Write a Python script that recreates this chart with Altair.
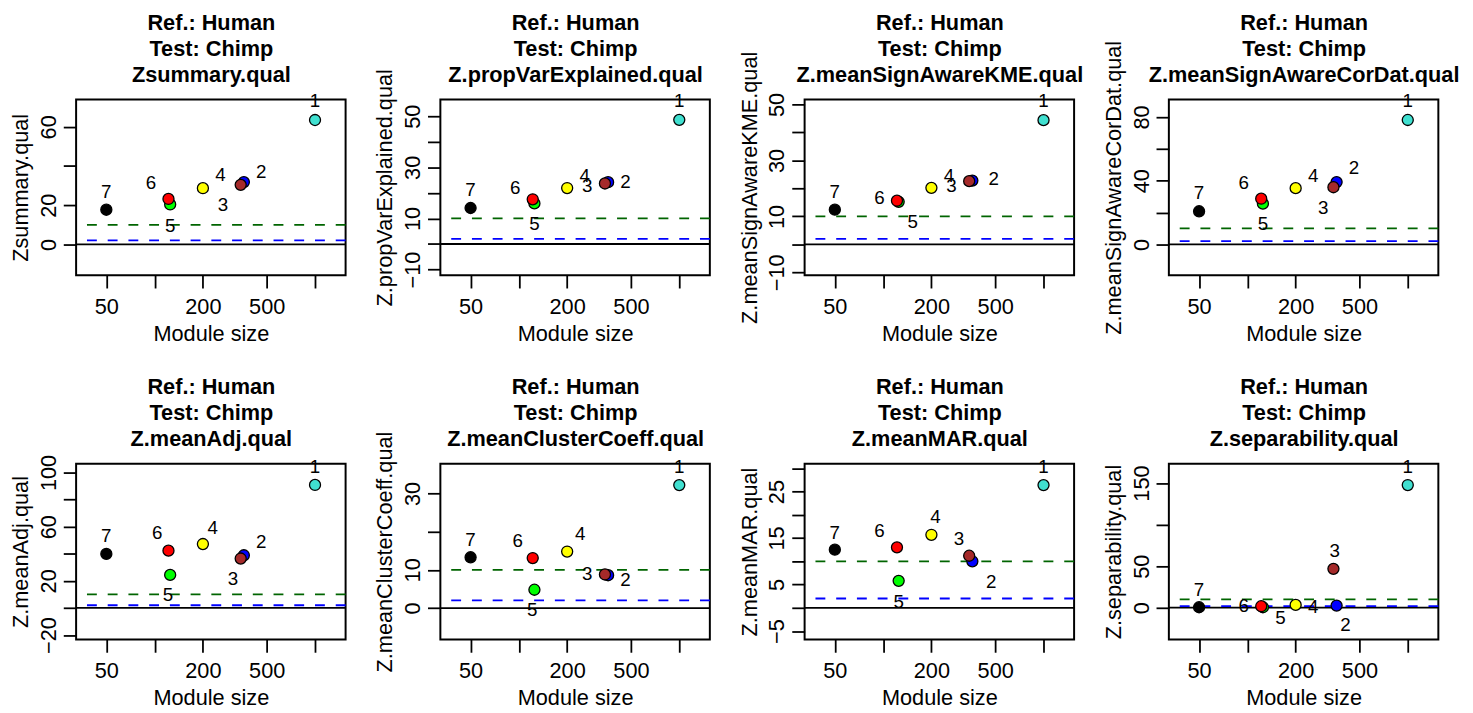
import altair as alt
import pandas as pd

FONT = "Liberation Sans"

# ---- data ----
modules = ["1", "2", "3", "4", "5", "6", "7"]
module_colors = ["#40E0D0", "#0000FF", "#A52A2A", "#FFFF00", "#00FF00", "#FF0000", "#000000"]
module_sizes = [1000, 360, 344, 200, 125, 122, 50]

stat_names = [
    "Zsummary.qual", "Z.propVarExplained.qual", "Z.meanSignAwareKME.qual",
    "Z.meanSignAwareCorDat.qual", "Z.meanAdj.qual", "Z.meanClusterCoeff.qual",
    "Z.meanMAR.qual", "Z.separability.qual",
]

zsummary = [63.5, 31.8, 30.4, 28.7, 20.4, 23.2, 17.7]
prop_var = [48.6, 24.2, 23.7, 21.9, 15.9, 17.5, 14.1]
sign_kme = [44.4, 22.8, 22.6, 20.2, 15.2, 15.6, 12.4]
sign_cor = [78.1, 39.1, 35.9, 35.3, 25.6, 28.7, 20.8]
mean_adj = [90.8, 38.9, 36.5, 47.2, 24.4, 42.3, 39.9]
clust_coef = [32.2, 8.6, 8.8, 14.8, 4.8, 13.1, 13.3]
mean_mar = [26.4, 10.0, 11.2, 15.7, 5.8, 13.0, 12.5]
separab = [147.6, 2.6, 46.8, 3.4, 0.6, 1.8, 0.6]
stat_values = [zsummary, prop_var, sign_kme, sign_cor, mean_adj, clust_coef, mean_mar, separab]

y_domains = [
    [-15.7, 74.0], [-12.2, 56.6], [-11.0, 51.8], [-19.3, 91.0],
    [-23.2, 106.5], [-8.2, 37.8], [-6.8, 31.0], [-38.1, 173.3],
]
y_ticks = [
    [0, 20, 40, 60], [-10, 0, 10, 20, 30, 40, 50], [-10, 0, 10, 20, 30, 40, 50],
    [0, 20, 40, 60, 80], [-20, 0, 20, 40, 60, 80, 100], [0, 10, 20, 30],
    [-5, 0, 5, 10, 15, 20, 25, 30], [0, 50, 100, 150],
]
y_labels = [
    [0, 20, 60], [-10, 10, 30, 50], [-10, 10, 30, 50], [0, 40, 80],
    [-20, 20, 60, 100], [0, 10, 30], [-5, 5, 15, 25], [0, 50, 150],
]
x_domain = [32.4, 1551]
x_ticks = [50, 100, 200, 500, 1000]
x_labels = [50, 200, 500]

thresholds = [0, 2, 10]
threshold_colors = ["black", "#0000FF", "#006400"]

# label placement offsets (pixels) for module numbers, per panel
label_dx = [
    [0, 17.7, -18, 17.7, 0, -17.7, 0],
    [0, 17.7, -18, 17.7, 0, -17.7, 0],
    [0, 21.7, -18, 17.7, 14.3, -17.7, 0],
    [0, 17.7, -10.3, 17.7, 0, -17.7, 0],
    [0, 17.7, -7.7, 10, -2.3, -11.3, 0],
    [0, 17.7, -18, 13.3, -2.3, -15.3, 0],
    [0, 19, -10.3, 4, 0, -17.7, 0],
    [0, 9, 1.3, 17.7, 17.7, -17.7, 0],
]
label_dy = [
    [-19, -10, 20.7, -13.3, 21.7, -16, -17.7],
    [-19, 0, 2.3, -12, 21, -11.7, -17.7],
    [-19, -1.3, 4.7, -12.3, 20.3, -3, -17.7],
    [-19, -14, 20.7, -12.7, 20.7, -15.7, -18.3],
    [-18.3, -13, 21, -16, 20.3, -17.7, -17.7],
    [-18.3, 5, -0.7, -17.7, 21, -16.7, -17.7],
    [-18.3, 21, -16.7, -18.3, 21.7, -16, -17.3],
    [-18.3, 20, -18.3, 2.3, 11, 0, -17.7],
]

PW, PH = 273, 178


def label_expr(vals):
    arr = ",".join(str(v) for v in vals)
    return f"indexof([{arr}], datum.value) >= 0 ? datum.label : ''"


def panel(i):
    df = pd.DataFrame({
        "module": modules,
        "color": module_colors,
        "size": module_sizes,
        "value": stat_values[i],
    })
    xscale = alt.Scale(type="log", domain=x_domain, nice=False, zero=False)
    yscale = alt.Scale(domain=y_domains[i], nice=False, zero=False)
    xaxis = alt.Axis(
        orient="bottom",
        values=x_ticks, labelExpr=label_expr(x_labels), title="Module size",
        domain=False, grid=False, tickSize=13, tickWidth=1.8, tickColor="black",
        labelFontSize=22, titleFontSize=22, labelFont=FONT, titleFont=FONT,
        labelColor="black", titleColor="black", titleFontWeight="normal",
        labelPadding=8.5, titlePadding=6.5, labelFlush=False, labelOverlap=False,
    )
    top_axis = alt.Axis(
        orient="top", ticks=False, labels=False, domain=False, grid=False,
        title=["Ref.: Human", "Test: Chimp", stat_names[i]],
        titleFontSize=22, titleFont=FONT, titleFontWeight="bold", titleColor="black",
        titleLineHeight=26.5, titlePadding=13, titleBaseline="bottom",
    )
    yaxis = alt.Axis(
        values=y_ticks[i], labelExpr=label_expr(y_labels[i]), title=stat_names[i],
        domain=False, grid=False, tickSize=13, tickWidth=1.8, tickColor="black",
        labelFontSize=22, titleFontSize=22, labelFont=FONT, titleFont=FONT,
        labelColor="black", titleColor="black", titleFontWeight="normal",
        labelAngle=270, labelAlign="center", labelBaseline="bottom",
        labelPadding=3, titlePadding=5, labelFlush=False, labelOverlap=False,
    )
    base = alt.Chart(df)
    layers = []
    for t, c in zip(thresholds, threshold_colors):
        kw = dict(color=c, strokeWidth=1.8)
        if t != 0:
            kw["strokeDash"] = [10, 11]
        layers.append(
            alt.Chart(pd.DataFrame({"t": [t]})).mark_rule(**kw).encode(
                y=alt.Y("t:Q", scale=yscale, axis=yaxis)
            )
        )
    pts = base.mark_circle(size=125, stroke="black", strokeWidth=1.3, opacity=1).encode(
        x=alt.X("size:Q", scale=xscale, axis=xaxis),
        y=alt.Y("value:Q", scale=yscale, axis=yaxis),
        color=alt.Color("color:N", scale=None),
    )
    layers.append(pts)
    for k, m in enumerate(modules):
        txt = base.transform_filter(alt.datum.module == m).mark_text(
            fontSize=19, font=FONT, color="black", align="center", baseline="middle",
            dx=label_dx[i][k], dy=label_dy[i][k],
        ).encode(
            x=alt.X("size:Q", scale=xscale, axis=top_axis if k == 0 else None),
            y=alt.Y("value:Q", scale=yscale, axis=yaxis),
            text="module:N",
        )
        layers.append(txt)
    return alt.layer(*layers).resolve_axis(x="independent").properties(width=PW, height=PH)


chart = alt.concat(
    *[panel(i) for i in range(8)], columns=4,
    spacing=alt.RowColnumber(row=191, column=96), bounds="flush",
).properties(
    padding={"left": 0, "top": -2, "right": 5, "bottom": 5},
    background="white",
).configure_view(stroke="black", strokeWidth=2)

chart.save("out.html", embed_options={"renderer": "svg", "actions": False})
